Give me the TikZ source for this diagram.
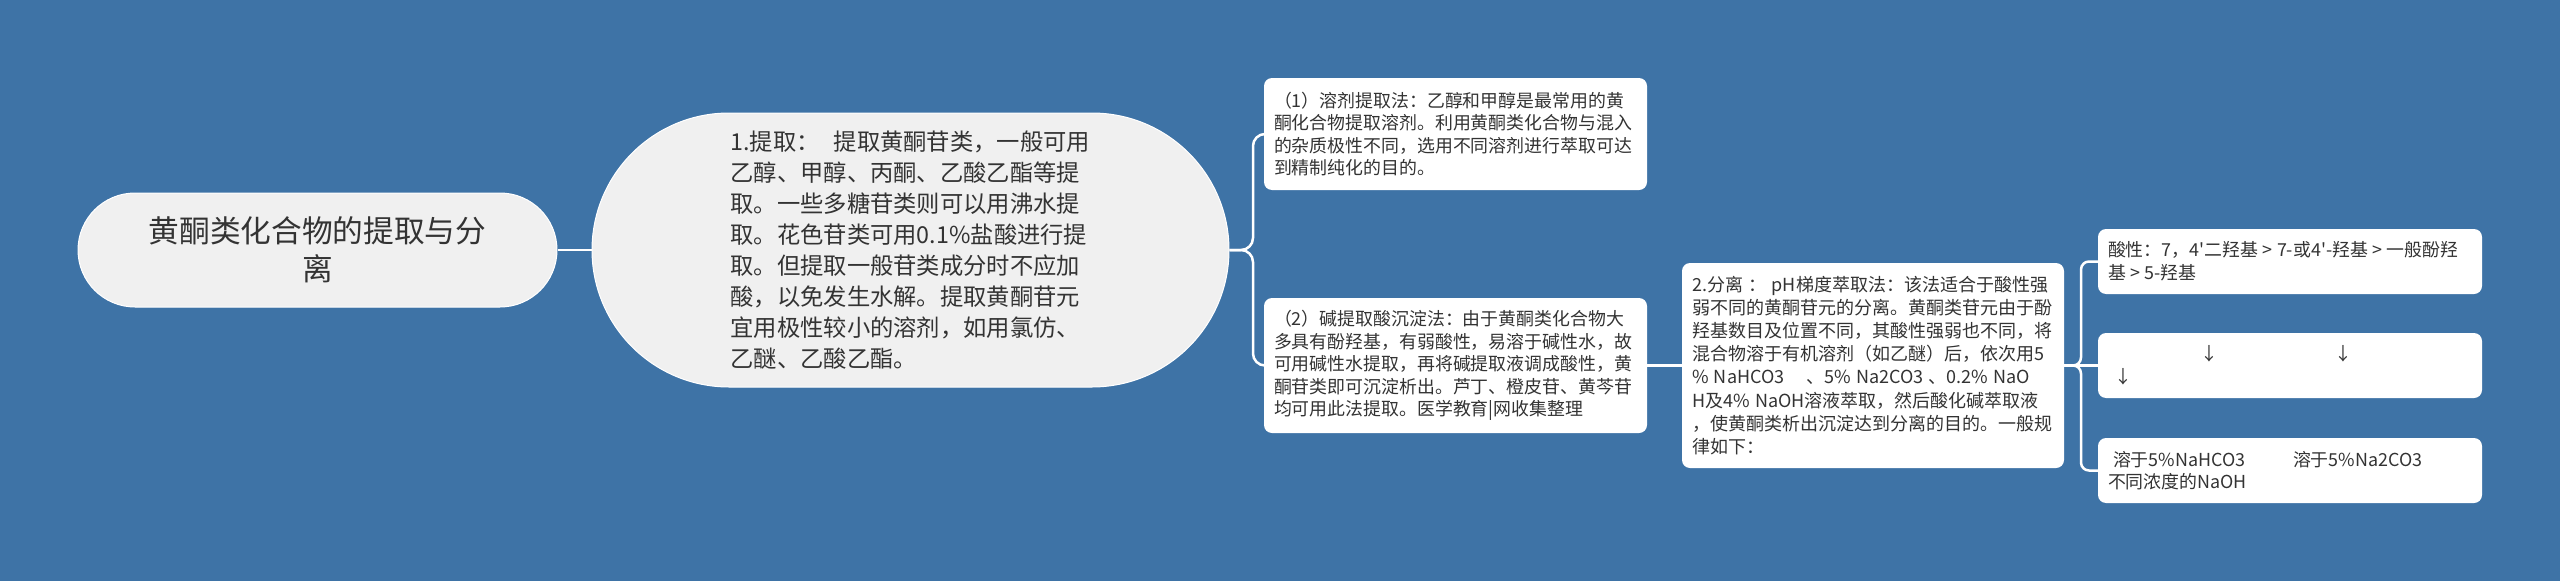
\documentclass[tikz,border=0pt]{standalone}
\usepackage{fontspec}
\newfontfamily\cjk{Noto Sans CJK SC}
\definecolor{bg}{HTML}{3E73A6}
\definecolor{txt}{HTML}{333333}
\definecolor{pillfill}{HTML}{F0F0F0}
\begin{document}
\begin{tikzpicture}[x=1pt,y=-1pt,
  conn/.style={draw=white,line width=2.5pt},
  pillnode/.style={fill=pillfill,draw=white,line width=1pt,text=txt,inner sep=0pt},
  leaf/.style={fill=white,rounded corners=8pt,text=txt,inner sep=0pt,align=left,
    minimum width=383pt,text width=363pt,font=\cjk\fontsize{17.9}{22.6}\selectfont},
  leafr/.style={leaf,minimum width=384pt,text width=364pt,minimum height=65pt}]
\fill[bg] (0,0) rectangle (2560,581);
\useasboundingbox (0,0) rectangle (2560,581);

\node[pillnode,minimum width=479pt,minimum height=114pt,rounded corners=57pt,
  text width=400pt,align=center,font=\cjk\fontsize{30.7}{38}\selectfont]
  (root) at (317.5,250) {黄酮类化合物的提取与分\\离};

\node[pillnode,minimum width=637pt,minimum height=274pt,rounded corners=137pt,
  text width=360pt,align=left,font=\cjk\fontsize{23.3}{31.1}\selectfont]
  (pill) at (910.5,250) {1.提取：\hspace*{0.6em}提取黄酮苷类，一般可用\\乙醇、甲醇、丙酮、乙酸乙酯等提\\取。一些多糖苷类则可以用沸水提\\取。花色苷类可用0.1\%盐酸进行提\\取。但提取一般苷类成分时不应加\\酸，以免发生水解。提取黄酮苷元\\宜用极性较小的溶剂，如用氯仿、\\乙醚、乙酸乙酯。};

\node[leaf,minimum height=112pt] (b1) at (1455.5,134)
  {（1）溶剂提取法：乙醇和甲醇是最常用的黄\\酮化合物提取溶剂。利用黄酮类化合物与混入\\的杂质极性不同，选用不同溶剂进行萃取可达\\到精制纯化的目的。};

\node[leaf,minimum height=135pt] (b2) at (1455.5,365.5)
  {（2）碱提取酸沉淀法：由于黄酮类化合物大\\多具有酚羟基，有弱酸性，易溶于碱性水，故\\可用碱性水提取，再将碱提取液调成酸性，黄\\酮苷类即可沉淀析出。芦丁、橙皮苷、黄芩苷\\均可用此法提取。医学教育|网收集整理};

\node[leaf,minimum width=382pt,text width=362pt,minimum height=205pt,
  font=\cjk\fontsize{18}{23.2}\selectfont] (sep) at (1873,365.5)
  {2.分离\hspace*{0.3em}：\hspace*{0.3em}pH梯度萃取法：该法适合于酸性强\\弱不同的黄酮苷元的分离。黄酮类苷元由于酚\\羟基数目及位置不同，其酸性强弱也不同，将\\混合物溶于有机溶剂（如乙醚）后，依次用5\\\%\hspace*{0.3em}NaHCO3\hspace*{1.2em}、5\%\hspace*{0.3em}Na2CO3\hspace*{0.3em}、0.2\%\hspace*{0.3em}NaO\\H及4\%\hspace*{0.3em}NaOH溶液萃取，然后酸化碱萃取液\\，使黄酮类析出沉淀达到分离的目的。一般规\\律如下：};

\node[leafr] (bA) at (2290,261.5)
  {酸性：7，4'二羟基\hspace*{0.25em}>\hspace*{0.25em}7-或4'-羟基\hspace*{0.25em}>\hspace*{0.25em}一般酚羟\\基\hspace*{0.25em}>\hspace*{0.25em}5-羟基};

\node[leafr] (bB) at (2290,365.5)
  {\hspace*{101pt}\makebox[0pt]{↓}\hspace*{134pt}\makebox[0pt]{↓}\\\hspace*{15pt}\makebox[0pt]{↓}};

\node[leafr] (bC) at (2290,470.5)
  {\hspace*{5pt}\makebox[180pt][l]{溶于5\%NaHCO3}溶于5\%Na2CO3\\不同浓度的NaOH};

\coordinate (j1) at (1253,250);
\coordinate (j2) at (2081,365.5);

\draw[conn] (root.east) -- (pill.west);
\draw[conn,rounded corners=12pt] (pill.east) -- (j1) |- (b1.west);
\draw[conn,rounded corners=12pt] (pill.east) -- (j1) |- (b2.west);
\draw[conn] (b2.east) -- (sep.west);
\draw[conn,rounded corners=8pt] (sep.east) -- (j2) |- (bA.west);
\draw[conn,rounded corners=8pt] (sep.east) -- (j2) |- (bC.west);
\draw[conn] (sep.east) -- (bB.west);
\end{tikzpicture}
\end{document}
